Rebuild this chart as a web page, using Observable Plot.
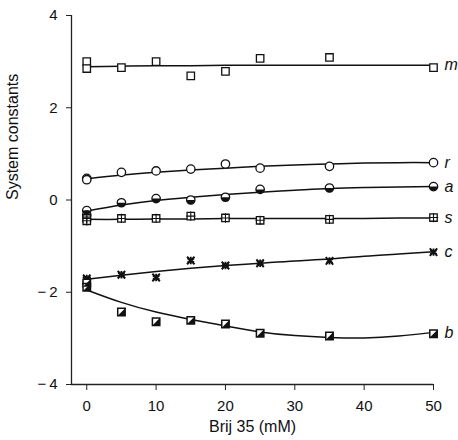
<!DOCTYPE html>
<html>
<head>
<meta charset="utf-8">
<script src="https://cdn.jsdelivr.net/npm/d3@7"></script>
<script src="https://cdn.jsdelivr.net/npm/@observablehq/plot@0.6"></script>
<style>
  html, body { margin: 0; padding: 0; background: #fff; }
  #chart svg { display: block; }
</style>
</head>
<body>
<div id="chart"></div>
<script>
// Brij 35 concentration (mM) of each measurement; 0 mM was measured twice
const conc = [0, 0, 5, 10, 15, 20, 25, 35, 50];

// Measured system constants
const mVals = [3.00, 2.85, 2.87, 3.00, 2.69, 2.79, 3.07, 3.09, 2.87];
const rVals = [0.47, 0.44, 0.60, 0.63, 0.67, 0.78, 0.69, 0.73, 0.81];
const aVals = [-0.23, -0.33, -0.06, 0.03, 0.00, 0.06, 0.23, 0.26, 0.29];
const sVals = [-0.40, -0.45, -0.40, -0.40, -0.35, -0.39, -0.44, -0.42, -0.38];
const cVals = [-1.70, -1.74, -1.62, -1.68, -1.31, -1.42, -1.37, -1.32, -1.13];
const bVals = [-1.80, -1.89, -2.43, -2.64, -2.61, -2.69, -2.89, -2.95, -2.90];

// Fitted curves
const fitConc = [0, 5, 10, 15, 20, 25, 30, 35, 40, 45, 50];
const mFit = [2.89, 2.90, 2.91, 2.91, 2.92, 2.92, 2.92, 2.92, 2.92, 2.92, 2.92];
const rFit = [0.46, 0.54, 0.60, 0.65, 0.69, 0.73, 0.76, 0.78, 0.80, 0.81, 0.81];
const aFit = [-0.24, -0.11, -0.01, 0.06, 0.12, 0.17, 0.21, 0.25, 0.27, 0.28, 0.29];
const sFit = [-0.42, -0.42, -0.41, -0.41, -0.40, -0.40, -0.40, -0.40, -0.40, -0.39, -0.39];
const cFit = [-1.72, -1.63, -1.55, -1.48, -1.42, -1.37, -1.32, -1.28, -1.22, -1.17, -1.12];
const bFit = [-1.95, -2.22, -2.43, -2.59, -2.73, -2.86, -2.94, -2.98, -2.99, -2.95, -2.87];

const seriesNames = ["m", "r", "a", "s", "c", "b"];
const xTicks = [0, 10, 20, 30, 40, 50];
const yTicks = [-4, -2, 0, 2, 4];

const valuesByName = {m: mVals, r: rVals, a: aVals, s: sVals, c: cVals, b: bVals};
const fitsByName = {m: mFit, r: rFit, a: aFit, s: sFit, c: cFit, b: bFit};

const points = name => conc.map((x, i) => ({x, y: valuesByName[name][i]}));
const curve = name => fitConc.map((x, i) => ({x, y: fitsByName[name][i], name}));
const curveEnds = seriesNames.map(name => {
  const c = curve(name);
  return c[c.length - 1];
});

// Marker glyph helpers
const lowerHalfDisk = {
  draw(ctx, size) {
    const r = Math.sqrt(size / Math.PI);
    ctx.moveTo(r, 0);
    ctx.arc(0, 0, r, 0, Math.PI);
    ctx.closePath();
  }
};
const halfSquare = {
  draw(ctx, size) {
    const h = Math.sqrt(size) / 2;
    ctx.moveTo(h, -h);
    ctx.lineTo(h, h);
    ctx.lineTo(-h, h);
    ctx.closePath();
  }
};

const R = 4.2;
const minus = d => (d < 0 ? "\u2212\u2009" + Math.abs(d) : String(d));

const chart = Plot.plot({
  width: 458,
  height: 440,
  marginLeft: 71,
  marginRight: 25,
  marginTop: 15,
  marginBottom: 56,
  style: {fontFamily: "'Liberation Sans', Arial, Helvetica, sans-serif", fontSize: "15px", color: "#111", background: "#fff"},
  x: {domain: [-2.2, 50], label: null},
  y: {domain: [-4, 4], label: null},
  marks: [
    // Axis lines
    Plot.ruleX([-2.2], {y1: -4, y2: 4, stroke: "#222", strokeWidth: 1.3}),
    Plot.ruleY([-4], {x1: -2.2, x2: 50, stroke: "#222", strokeWidth: 1.3}),
    Plot.axisX({ticks: xTicks, tickSize: 6, tickPadding: 10, fontSize: 15, stroke: "#222", tickFormat: minus, label: null}),
    Plot.axisY({ticks: yTicks, tickSize: 5, tickPadding: 9, fontSize: 15, stroke: "#222", tickFormat: minus, label: null}),

    // Fitted curves
    ...seriesNames.map(name =>
      Plot.line(curve(name), {x: "x", y: "y", curve: "natural", stroke: "#111", strokeWidth: 1.5})
    ),

    // m: open squares
    Plot.dot(points("m"), {x: "x", y: "y", symbol: "square", r: R, fill: "white", stroke: "#111", strokeWidth: 1.3}),
    // r: open circles
    Plot.dot(points("r"), {x: "x", y: "y", symbol: "circle", r: R, fill: "white", stroke: "#111", strokeWidth: 1.3}),
    // a: half-filled circles
    Plot.dot(points("a"), {x: "x", y: "y", symbol: "circle", r: R, fill: "white", stroke: "#111", strokeWidth: 1.3}),
    Plot.dot(points("a"), {x: "x", y: "y", symbol: lowerHalfDisk, r: R, fill: "#111", stroke: "none"}),
    // s: squares with a cross inside
    Plot.dot(points("s"), {x: "x", y: "y", symbol: "square", r: R, fill: "white", stroke: "#111", strokeWidth: 1.3}),
    Plot.dot(points("s"), {x: "x", y: "y", symbol: "plus", r: 3.1, stroke: "#111", strokeWidth: 1.1}),
    // c: bold asterisks
    Plot.dot(points("c"), {x: "x", y: "y", symbol: "asterisk", r: 3.5, stroke: "#111", strokeWidth: 1.8}),
    Plot.dot(points("c"), {x: "x", y: "y", symbol: "times", r: 3.5, stroke: "#111", strokeWidth: 2}),
    // b: half-filled squares
    Plot.dot(points("b"), {x: "x", y: "y", symbol: "square", r: R, fill: "white", stroke: "#111", strokeWidth: 1.5}),
    Plot.dot(points("b"), {x: "x", y: "y", symbol: halfSquare, r: R, fill: "#111", stroke: "none"}),

    // Series labels at the curve ends
    Plot.text(curveEnds, {x: "x", y: "y", text: "name", dx: 11, textAnchor: "start", fontStyle: "italic", fontSize: 16, fill: "#111"}),

    // Axis titles
    Plot.text(["Brij 35 (mM)"], {text: d => d, frameAnchor: "bottom", dy: 47, fontSize: 16, fill: "#111"}),
    Plot.text(["System constants"], {text: d => d, frameAnchor: "left", dx: -59, rotate: -90, fontSize: 16, fill: "#111"})
  ]
});

document.getElementById("chart").append(chart);
</script>
</body>
</html>
